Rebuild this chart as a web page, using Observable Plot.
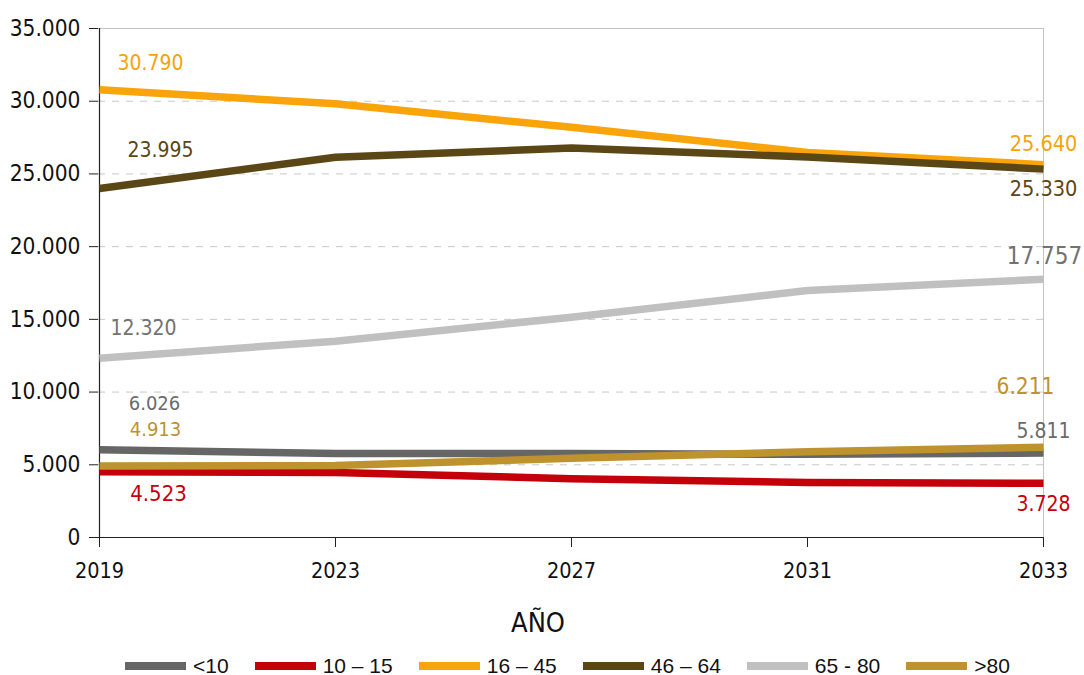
<!DOCTYPE html>
<html>
<head>
<meta charset="utf-8">
<script src="https://cdn.jsdelivr.net/npm/d3@7"></script>
<script src="https://cdn.jsdelivr.net/npm/@observablehq/plot@0.6"></script>
<style>
  html, body { margin: 0; padding: 0; background: #fff; }
  #wrap { position: relative; width: 1084px; height: 675px; background: #fff; }
  #xlabel { position: absolute; left: 0; width: 1076px; top: 608px; line-height: 30px; text-align: center;
    font-family: "Liberation Sans Narrow", "DejaVu Sans Condensed", sans-serif; font-size: 27px; color: #111; }
  #legend { position: absolute; left: 125px; top: 654px; display: flex; align-items: center;
    font-family: "Liberation Sans", Arial, sans-serif; font-size: 21px; line-height: 24px; color: #111; white-space: nowrap; }
  .item { display: flex; align-items: center; margin-right: 26px; }
  .sw { width: 61px; height: 8px; margin-right: 7px; flex: none; }
</style>
</head>
<body>
<div id="wrap">
  <div id="chart"></div>
  <div id="xlabel"></div>
  <div id="legend"></div>
</div>
<script>
// ---- data ----
const years = ["2019", "2023", "2027", "2031", "2033"];
const series = ["<10", "10 – 15", "16 – 45", "46 – 64", "65 - 80", ">80"];
const menos10 = [6026, 5770, 5780, 5720, 5811];
const de10a15 = [4523, 4470, 4040, 3790, 3728];
const de16a45 = [30790, 29820, 28210, 26480, 25640];
const de46a64 = [23995, 26150, 26780, 26170, 25330];
const de65a80 = [12320, 13500, 15150, 16980, 17757];
const mas80 = [4913, 4950, 5450, 5900, 6211];
const yTicks = [0, 5000, 10000, 15000, 20000, 25000, 30000, 35000];
const xTitle = "AÑO";

// ---- styles ----
const lineColors = ["#666666", "#c4000b", "#f9a40a", "#5b4615", "#c0c0c0", "#be922d"];
const labelColors = ["#6b6b6b", "#c4000b", "#f5a40c", "#5c4614", "#727272", "#bf9230"];
// label offsets (px) relative to the first / last point of each series
const firstOff = [
  {dx: 55, dy: -46, size: 20}, {dx: 59, dy: 22, size: 22}, {dx: 51, dy: -26, size: 21},
  {dx: 61, dy: -38, size: 21}, {dx: 44, dy: -30, size: 21}, {dx: 56, dy: -36, size: 20}
];
const lastOff = [
  {dx: 0, dy: -22, size: 21}, {dx: 0, dy: 21, size: 21}, {dx: 0, dy: -21, size: 21.5},
  {dx: 0, dy: 20, size: 21.5}, {dx: 1, dy: -23, size: 24}, {dx: -18, dy: -60, size: 22.5}
];

const allValues = [menos10, de10a15, de16a45, de46a64, de65a80, mas80];
const rows = [];
series.forEach((s, i) => years.forEach((y, j) => rows.push({serie: s, year: y, value: allValues[i][j]})));

const loc = d3.formatLocale({decimal: ",", thousands: ".", grouping: [3], currency: ["", "€"]});
const fmt = loc.format(",");

const labelMarks = [];
series.forEach((s, i) => {
  const vals = allValues[i];
  labelMarks.push(Plot.text([{year: years[0], value: vals[0]}], {
    x: "year", y: "value", text: d => fmt(d.value), dx: firstOff[i].dx, dy: firstOff[i].dy,
    fill: labelColors[i], fontSize: firstOff[i].size, textAnchor: "middle"
  }));
  labelMarks.push(Plot.text([{year: years[years.length - 1], value: vals[vals.length - 1]}], {
    x: "year", y: "value", text: d => fmt(d.value), dx: lastOff[i].dx, dy: lastOff[i].dy,
    fill: labelColors[i], fontSize: lastOff[i].size, textAnchor: "middle"
  }));
});

const chart = Plot.plot({
  width: 1084,
  height: 600,
  marginTop: 28,
  marginBottom: 63,
  marginLeft: 98,
  marginRight: 41,
  style: {fontFamily: "'DejaVu Sans Condensed', 'DejaVu Sans', sans-serif", background: "#fff", color: "#111", overflow: "visible"},
  x: {type: "point", domain: years, padding: 0},
  y: {domain: [0, 35000]},
  color: {domain: series, range: lineColors},
  marks: [
    Plot.gridY(yTicks.filter(t => t > 0 && t < 35000), {stroke: "#c8c8c8", strokeOpacity: 1, strokeDasharray: "7,7", strokeWidth: 1}),
    Plot.ruleY([35000], {stroke: "#c4c4c4", strokeWidth: 1}),
    Plot.ruleX([years[years.length - 1]], {stroke: "#c4c4c4", strokeWidth: 1}),
    Plot.axisY({ticks: yTicks, tickSize: 9, tickPadding: 9, tickFormat: d => fmt(d), fontSize: 22.5, label: null, stroke: "#222"}),
    Plot.axisX({tickSize: 10, tickPadding: 15, fontSize: 21.5, label: null, stroke: "#222"}),
    Plot.ruleX([years[0]], {stroke: "#222", strokeWidth: 1.2}),
    Plot.ruleY([0], {stroke: "#222", strokeWidth: 1.2}),
    Plot.line(rows, {x: "year", y: "value", z: "serie", stroke: "serie", strokeWidth: 7.5, strokeLinecap: "butt", strokeLinejoin: "round"}),
    ...labelMarks
  ]
});
document.getElementById("chart").appendChild(chart);

document.getElementById("xlabel").textContent = xTitle;
const legend = document.getElementById("legend");
series.forEach((s, i) => {
  const it = document.createElement("div");
  it.className = "item";
  const sw = document.createElement("div");
  sw.className = "sw";
  sw.style.background = lineColors[i];
  const tx = document.createElement("span");
  tx.textContent = s;
  it.appendChild(sw);
  it.appendChild(tx);
  legend.appendChild(it);
});
</script>
</body>
</html>
